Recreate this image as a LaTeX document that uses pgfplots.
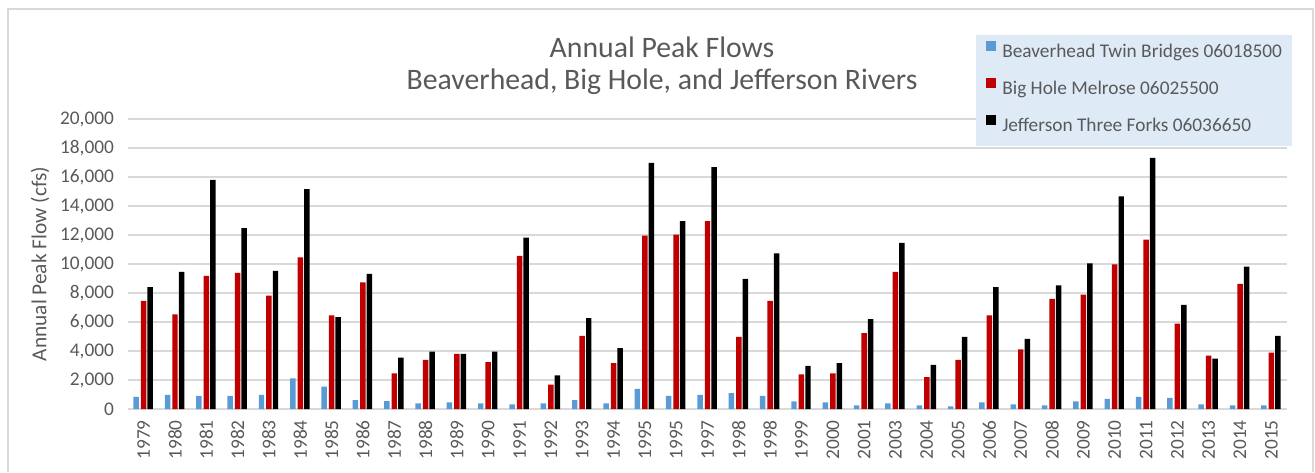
\documentclass[border=0pt]{standalone}
\usepackage{fontspec}
\setmainfont{Carlito}
\usepackage{pgfplots}
\usepackage{pgfplotstable}
\pgfplotsset{compat=1.18}
\definecolor{txt}{HTML}{595959}
\definecolor{cblue}{HTML}{5B9BD5}
\definecolor{cred}{HTML}{C00000}
\definecolor{gridc}{HTML}{D9D9D9}
\definecolor{legfill}{HTML}{DEEBF7}
\newcommand\tfont{\fontsize{14.5}{17}\selectfont}
\pgfplotstableread{
x blue red black
0 830 7450 8400
1 970 6530 9450
2 900 9180 15800
3 900 9380 12470
4 970 7820 9520
5 2120 10460 15160
6 1540 6460 6330
7 620 8740 9320
8 550 2460 3540
9 390 3380 3960
10 460 3800 3800
11 390 3240 3960
12 320 10560 11820
13 390 1680 2320
14 620 5040 6260
15 390 3170 4190
16 1380 11960 16970
17 900 12030 12950
18 970 12950 16680
19 1100 4970 8970
20 900 7450 10740
21 530 2390 2970
22 460 2460 3170
23 250 5240 6190
24 390 9450 11450
25 250 2190 3040
26 180 3380 4970
27 460 6460 8400
28 320 4120 4830
29 250 7590 8530
30 530 7890 10050
31 690 9980 14670
32 830 11680 17320
33 760 5890 7180
34 320 3680 3470
35 250 8625 9820
36 250 3890 5040
}\data
\begin{document}
\begin{tikzpicture}[x=0.75pt,y=0.75pt]
\path[use as bounding box] (0,0) rectangle (1315,472);
\draw[color=gridc, line width=1pt] (8,0) -- (8,463) -- (1313,463) -- (1313,0);
\node[text=txt, font=\fontsize{22.3}{26}\selectfont] at (662,425) {Annual Peak Flows};
\node[text=txt, font=\fontsize{22.3}{26}\selectfont] at (662,390) {Beaverhead, Big Hole, and Jefferson Rivers};
\begin{axis}[
  at={(96pt,47.25pt)}, anchor=south west,
  width=869.25pt, height=217.5pt, scale only axis,
  ybar, bar width=4.1pt,
  xmin=-0.5, xmax=36.5, ymin=0, ymax=20000,
  xtick=data,
  xticklabels={1979,1980,1981,1982,1983,1984,1985,1986,1987,1988,1989,1990,1991,1992,1993,1994,1995,1995,1997,1998,1998,1999,2000,2001,2003,2004,2005,2006,2007,2008,2009,2010,2011,2012,2013,2014,2015},
  x tick label style={rotate=90, anchor=east, font=\tfont, text=txt},
  xticklabel shift=5pt,
  ytick={0,2000,...,20000},
  y tick label style={font=\tfont, text=txt, xshift=-7pt},
  /pgf/number format/1000 sep={,},
  /pgf/number format/assume math mode=true,
  scaled y ticks=false,
  ymajorgrids, grid style={draw=gridc, line width=1pt},
  major tick length=0pt,
  axis line style={draw=none},
  ylabel={Annual Peak Flow (cfs)},
  ylabel style={font=\fontsize{16}{19}\selectfont, text=txt, at={(axis description cs:-0.0759,0.5)}, anchor=center},
  legend style={at={(axis description cs:0.7317,1.2897)}, anchor=north west,
    fill=legfill, draw=none, font=\tfont, text=txt, inner xsep=7.5pt, inner ysep=0pt,
    row sep=0pt,
    /tikz/every odd column/.style={column sep=4.5pt},
    nodes={text height=17pt, text depth=10.75pt, inner ysep=0pt, inner xsep=0pt}},
  legend cell align=left,
  legend image code/.code={\fill[#1] (0pt,2pt) rectangle (7.5pt,9.5pt);},
]
\addplot[fill=cblue, draw=none, bar shift=-5.6pt] table[x=x,y=blue]{\data};
\addplot[fill=cred, draw=none, bar shift=0pt] table[x=x,y=red]{\data};
\addplot[fill=black, draw=none, bar shift=4.9pt] table[x=x,y=black]{\data};
\legend{Beaverhead Twin Bridges 06018500, Big Hole Melrose 06025500, Jefferson Three Forks 06036650}
\end{axis}
\end{tikzpicture}
\end{document}
